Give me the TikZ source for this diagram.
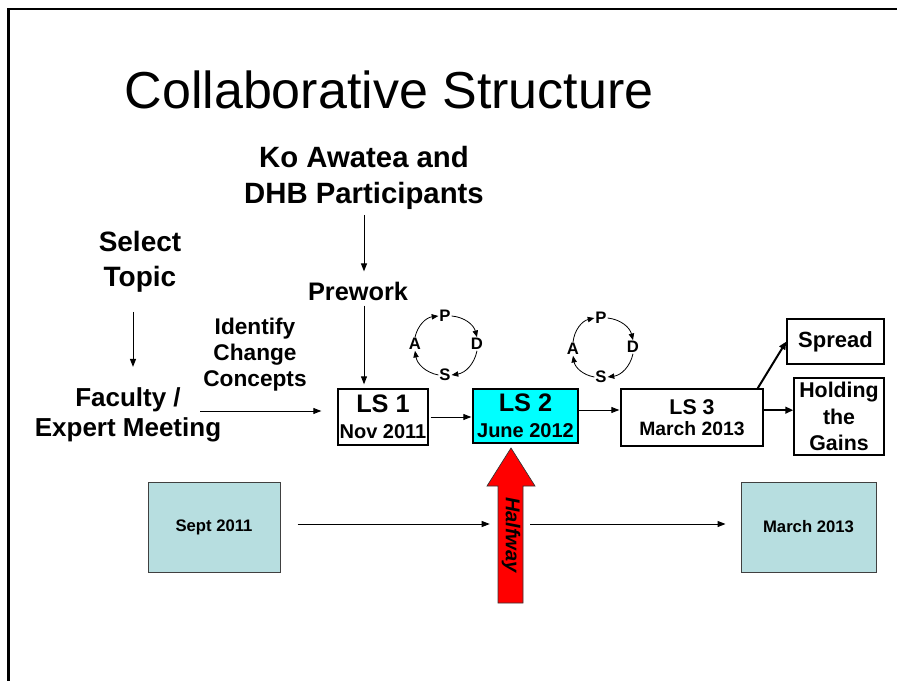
\documentclass[tikz,border=0pt]{standalone}
\usepackage{fontspec}
\setmainfont{Liberation Sans}
\usetikzlibrary{arrows.meta,calc}
\definecolor{lscyan}{RGB}{0,255,255}
\definecolor{datefill}{RGB}{183,222,224}
\definecolor{halfred}{RGB}{255,0,0}
\begin{document}
\begin{tikzpicture}[x=0.75pt,y=-0.75pt,
  txt/.style={inner sep=0pt, align=center},
  arr/.style={-{Triangle[length=6pt,width=4.5pt]}, line width=0.75pt},
  thickarr/.style={-{Triangle[length=6pt,width=5pt]}, line width=1.5pt},
  lsbox/.style={draw, line width=1pt, inner sep=0pt, align=center},
  datebox/.style={draw=black!75, fill=datefill, line width=0.75pt, inner sep=0pt, minimum height=67.5pt, font=\bfseries\fontsize{12.5}{15}\selectfont},
  pdsa/.style={inner sep=0.6pt, font=\bfseries\fontsize{12.5}{13}\selectfont},
  cyc/.style={-{Triangle[length=5pt,width=4pt]}, line width=0.6pt, bend left=35}
]
\useasboundingbox (0,0) rectangle (897,681);
\fill[white] (0,0) rectangle (897,681);
% frame
\draw[line width=1.6pt] (8.5,681) -- (8.5,9) -- (897,9);

% title
\node[txt, font=\fontsize{39}{47}\selectfont] (title) at (389,90) {Collaborative Structure};

% top texts
\node[txt, font=\bfseries\fontsize{22}{27}\selectfont] (ko) at (364,178) {Ko Awatea and\\DHB Participants};
\node[txt, font=\bfseries\fontsize{21}{26.25}\selectfont] (select) at (140,262) {Select\\Topic};
\node[txt, font=\bfseries\fontsize{19}{22}\selectfont] (prework) at (358,291) {Prework};
\node[txt, font=\bfseries\fontsize{17}{19.5}\selectfont] (identify) at (255,355) {Identify\\Change\\Concepts};
\node[txt, font=\bfseries\fontsize{19.5}{22}\selectfont] (faculty) at (128,415) {Faculty /\\Expert Meeting};

% LS boxes
\node[lsbox, font=\bfseries\fontsize{15}{19.5}\selectfont, minimum width=67.5pt, minimum height=42pt] (ls1) at (383,417)
  {{\fontsize{19}{19}\selectfont LS 1}\\Nov 2011};
\node[lsbox, font=\bfseries\fontsize{15}{19.5}\selectfont, fill=lscyan, minimum width=78.75pt, minimum height=40.5pt] (ls2) at (525.5,416)
  {{\fontsize{19}{19}\selectfont LS 2}\\June 2012};
\node[lsbox, font=\bfseries\fontsize{14.5}{15.5}\selectfont, minimum width=106.5pt, minimum height=42.75pt] (ls3) at (692,417.5)
  {{\fontsize{16}{16}\selectfont LS 3}\\March 2013};
\node[lsbox, minimum width=72.75pt, minimum height=33.75pt, font=\bfseries\fontsize{16.5}{18}\selectfont] (spread) at (835.5,341.5) {Spread};
\node[lsbox, minimum width=67.5pt, minimum height=57.75pt, font=\bfseries\fontsize{16}{20}\selectfont] (holding) at (839,416.5) {Holding\\the\\Gains};

% connectors top
\path (select.south) ++(-7,19) coordinate (selA);
\draw[arr, shorten >=15.75pt] (selA) -- (selA |- faculty.north);
\coordinate (facA) at (200,411);
\draw[arr, shorten >=12pt] (facA) -- (facA -| ls1.west);
\draw[arr, shorten <=3.75pt, shorten >=7.5pt] (ko.south) -- (ko.south |- prework.north);
\draw[arr, shorten <=3.75pt, shorten >=3pt] (ko.south |- prework.south) -- (ko.south |- ls1.north);
\draw[arr, shorten <=1.5pt, shorten >=0.75pt] (ls1.east) -- (ls1.east -| ls2.west);
\draw[arr, shorten >=0.75pt] ([yshift=4.5pt]ls2.east) -- ([yshift=4.5pt]ls2.east -| ls3.west);
\draw[thickarr] ([xshift=-4.5pt]ls3.north east) -- (spread.west);
\draw[thickarr] ([yshift=5.5pt]ls3.east) -- ([yshift=5.5pt]ls3.east -| holding.west);

% PDSA cycle 1
\node[pdsa] (P1) at (445,316) {P};
\node[pdsa] (D1) at (477,344) {D};
\node[pdsa] (S1) at (445,375) {S};
\node[pdsa] (A1) at (415,344) {A};
\draw[cyc] (A1.north) to (P1.west);
\draw[cyc] (P1.east) to (D1.north);
\draw[cyc] (D1.south) to (S1.east);
\draw[cyc] (S1.west) to (A1.south);
% PDSA cycle 2
\node[pdsa] (P2) at (601,318) {P};
\node[pdsa] (D2) at (633,347) {D};
\node[pdsa] (S2) at (601,377) {S};
\node[pdsa] (A2) at (573,349) {A};
\draw[cyc] (A2.north) to (P2.west);
\draw[cyc] (P2.east) to (D2.north);
\draw[cyc] (D2.south) to (S2.east);
\draw[cyc] (S2.west) to (A2.south);

% bottom timeline
\node[datebox, minimum width=99pt] (sept) at (214,527) {Sept 2011};
\node[datebox, minimum width=101.25pt] (march) at (808.5,527) {March 2013};
\draw[fill=halfred, draw=black!80, line width=0.5pt]
  (498,603) -- (498,486) -- (487,486) -- (511,448) -- (535,486) -- (523,486) -- (523,603) -- cycle;
\node[inner sep=0pt, minimum width=18.75pt, minimum height=87.75pt] (shaft) at (510.5,544.5) {};
\node[txt, rotate=-90, font=\bfseries\itshape\fontsize{15}{18}\selectfont] (halfway) at (511,535) {Halfway};
\draw[arr, shorten <=12.75pt, shorten >=6pt] ([yshift=2.25pt]sept.east) -- ([yshift=2.25pt]sept.east -| shaft.west);
\draw[arr, shorten <=5.25pt, shorten >=11.25pt] ([yshift=2.25pt]sept.east -| shaft.east) -- ([yshift=2.25pt]sept.east -| march.west);
\end{tikzpicture}
\end{document}
